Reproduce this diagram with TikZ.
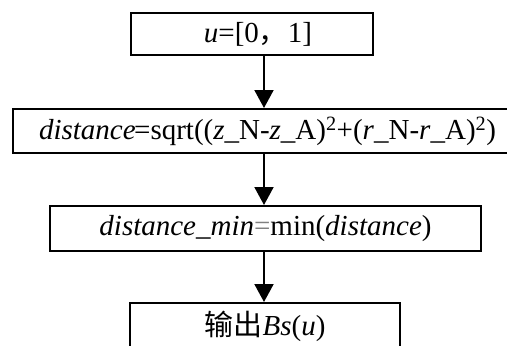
\documentclass[tikz,border=0pt]{standalone}
\usepackage{fontspec}
\setmainfont{Liberation Serif}
\newfontfamily\cjk{Noto Sans CJK SC}
\usetikzlibrary{arrows.meta}
\begin{document}
\begin{tikzpicture}[x=1pt,y=-1pt,
  box/.style={draw,line width=2pt,inner sep=0pt,anchor=north west,font=\fontsize{29}{32}\selectfont},
  arr/.style={line width=2pt,-{Triangle[width=19pt,length=18pt]}}]
\useasboundingbox (0,0) rectangle (507,346);
\clip (0,0) rectangle (507,346);
\node[box,minimum width=242pt,minimum height=42pt] (b1) at (130,12) {\hspace*{12pt}\textit{u}=[0{\cjk ，}1]};
\node[box,minimum width=509pt,minimum height=44pt] (b2) at (12,108) {\textit{distance}\kern-1.5pt=sqrt((\textit{z}\_N-\textit{z}\_A)\textsuperscript{2}+(\textit{r}\_N-\textit{r}\_A)\textsuperscript{2})};
\node[box,minimum width=431pt,minimum height=45pt] (b3) at (49,205) {\textit{distance\_min}{\color{gray}=}min(\textit{distance})};
\node[box,minimum width=270pt,minimum height=46pt] (b4) at (129,302) {{\cjk 输出}\textit{Bs}(\textit{u})};
\coordinate (mx) at (264,0);
\draw[arr] (b1.south -| mx) -- (b2.north -| mx);
\draw[arr] (b2.south -| mx) -- (b3.north -| mx);
\draw[arr] (b3.south -| mx) -- (b4.north -| mx);
\end{tikzpicture}
\end{document}
